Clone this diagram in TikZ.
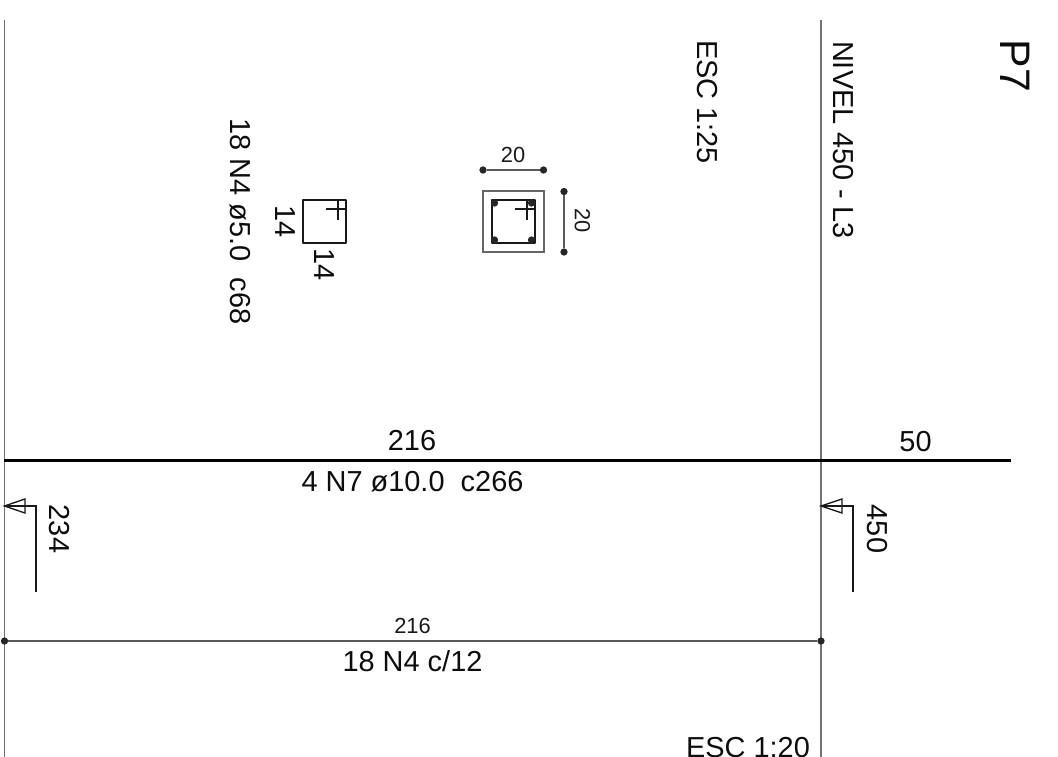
\documentclass[tikz,border=0pt]{standalone}
\usepackage{fontspec}
\setmainfont{Liberation Sans}
\tikzset{
  txt/.style={inner sep=0pt,text=black!95,font=\fontsize{21.7}{24}\selectfont},
  small/.style={inner sep=0pt,text=black!90,font=\fontsize{16.4}{19}\selectfont},
  vert/.style={rotate=-90},
  axisline/.style={draw=black!55,line width=1.1pt},
  bar/.style={draw=black,line width=1.9pt},
  thinb/.style={draw=black!65,line width=1pt},
  secmark/.style={draw=black!90,line width=1pt},
  dotp/.style={circle,fill=black!85,inner sep=0pt,minimum size=5.5pt},
  stirrup/.style={draw=black!90,line width=1.7pt,line join=round},
  hook/.style={draw=black!90,line width=1.4pt},
}
\begin{document}
\begin{tikzpicture}[x=0.75pt,y=-0.75pt]
\useasboundingbox (0,0) rectangle (1058,757);
% axes
\coordinate (a1t) at (4.5,20); \coordinate (a1b) at (4.5,757);
\coordinate (a2t) at (821,20); \coordinate (a2b) at (821,757);
\draw[axisline] (a1t) -- (a1b);
\draw[axisline] (a2t) -- (a2b);
% main bar
\coordinate (barL) at (4,460.5); \coordinate (barR) at (1011,460.5);
\draw[bar] (barL) -- (barR);
% dimension
\node[dotp] (dL) at (4.5,641) {};
\node[dotp] (dR) at (821,641) {};
\draw[thinb] (dL) -- (dR);
% section marks
\coordinate (s1tip) at (4.5,506); \coordinate (s1a) at (25,499); \coordinate (s1b) at (25,513);
\coordinate (s1c) at (36,506); \coordinate (s1d) at (36,592);
\draw[secmark,line join=miter] (s1tip) -- (s1a) -- (s1b) -- cycle;
\draw[secmark] (s1tip) -- (s1c) -- (s1d);
\coordinate (s2tip) at (821,506); \coordinate (s2a) at (842,499); \coordinate (s2b) at (842,513);
\coordinate (s2c) at (853,506); \coordinate (s2d) at (853,592);
\draw[secmark,line join=miter] (s2tip) -- (s2a) -- (s2b) -- cycle;
\draw[secmark] (s2tip) -- (s2c) -- (s2d);
% left stirrup
\draw[stirrup] (303,200) rectangle (346,243);
\draw[hook] (338,200) -- (338,220);
\draw[hook] (326,209) -- (346,209);
% section
\draw[draw=black!60,line width=0.8pt] (483,191) rectangle (544,252);
\draw[stirrup] (492,200) rectangle (535,243);
\draw[hook] (527,200) -- (527,220);
\draw[hook] (515,209) -- (535,209);
\node[dotp] (r1) at (494.5,203) {};
\node[dotp] (r2) at (531.5,203) {};
\node[dotp] (r3) at (494.5,240) {};
\node[dotp] (r4) at (531.5,240) {};
\node[dotp] (d1) at (483,170) {};
\node[dotp] (d2) at (543.5,170) {};
\draw[thinb] (d1) -- (d2);
\node[dotp] (d3) at (564,191.5) {};
\node[dotp] (d4) at (564,252) {};
\draw[thinb] (d3) -- (d4);
% labels
\node[txt,vert,font=\fontsize{32}{36}\selectfont] (p7) at (1015,66) {P7};
\node[txt,vert] (niv) at (843,140) {NIVEL 450 - L3};
\node[txt,vert] (esc) at (707,102) {ESC 1:25};
\node[txt,vert] (n4) at (240.5,221.5) {18 N4 ø5.0\ \ c68};
\node[txt,vert] (l14a) at (285,222) {14};
\node[txt,vert] (l14b) at (324.5,265) {14};
\node[small] (l20a) at (513,155) {20};
\node[small,vert] (l20b) at (582.5,221) {20};
\node[txt] (t216) at (412,441) {216};
\node[txt] (t50) at (915.5,442) {50};
\node[txt] (n7) at (412.5,481.5) {4 N7 ø10.0\ \ c266};
\node[txt,vert] (t234) at (59,529) {234};
\node[txt,vert] (t450) at (877,529) {450};
\node[small] (s216) at (412.5,625.5) {216};
\node[txt] (n4c) at (412.5,661) {18 N4 c/12};
\node[txt] (esc2) at (748,748) {ESC 1:20};
\end{tikzpicture}
\end{document}
